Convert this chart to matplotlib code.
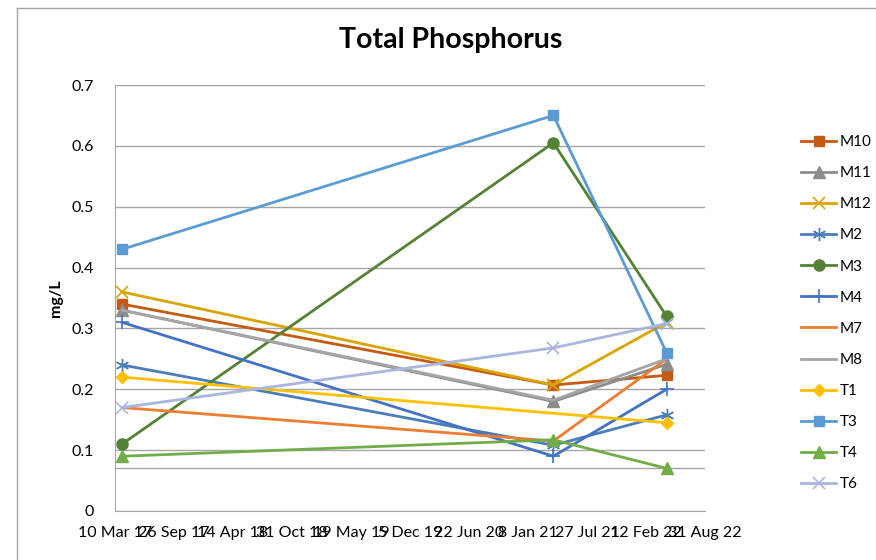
import matplotlib.pyplot as plt
import pandas as pd
from matplotlib import rcParams

rcParams['font.family'] = ['Lato', 'DejaVu Sans']

# sampling dates
dates = pd.to_datetime(['2017-04-03', '2021-04-04', '2022-04-23'])

sites = ['M10', 'M11', 'M12', 'M2', 'M3', 'M4', 'M7', 'M8', 'T1', 'T3', 'T4', 'T6']
m10 = [0.34, 0.207, 0.223]
m11 = [0.33, 0.18, 0.241]
m12 = [0.36, 0.207, 0.31]
m2 = [0.24, 0.108, 0.158]
m3 = [0.11, 0.605, 0.32]
m4 = [0.31, 0.09, 0.20]
m7 = [0.17, 0.115, 0.25]
m8 = [0.33, 0.182, 0.25]
t1 = [0.22, None, 0.145]
t3 = [0.43, 0.65, 0.26]
t4 = [0.09, 0.117, 0.07]
t6 = [0.17, 0.268, 0.308]
guideline = 0.07

x_start = pd.Timestamp('2017-03-10')
x_end = pd.Timestamp('2022-08-31')
tick_dates = pd.date_range(x_start, x_end, freq='200D')

styles = {
    'M10': dict(color='#C55A11', marker='s', ms=7.5),
    'M11': dict(color='#8C8C8C', marker='^', ms=8),
    'M12': dict(color='#D9A400', marker='x', ms=8.5, mew=1.2),
    'M2': dict(color='#4A7EBB', marker=(6, 2, 0), ms=9.5, mew=1.0),
    'M3': dict(color='#548235', marker='o', ms=8),
    'M4': dict(color='#4472C4', marker='+', ms=9.5, mew=1.2),
    'M7': dict(color='#ED7D31', marker=None),
    'M8': dict(color='#A5A5A5', marker=None),
    'T1': dict(color='#FFC000', marker='D', ms=6.5),
    'T3': dict(color='#5B9BD5', marker='s', ms=7.5),
    'T4': dict(color='#70AD47', marker='^', ms=8),
    'T6': dict(color='#A9B6E0', marker='x', ms=8.5, mew=1.2),
}
values = [m10, m11, m12, m2, m3, m4, m7, m8, t1, t3, t4, t6]

fig = plt.figure(figsize=(8.76, 5.6), dpi=100)
ax = fig.add_axes([115 / 876, 49 / 560, 590 / 876, 426 / 560])

for name, vals in zip(sites, values):
    s = pd.Series(vals, index=dates, dtype=float).dropna()
    ax.plot(s.index, s.values, label=name, lw=2, **styles[name])

ax.axhline(guideline, color='#A6A6A6', lw=1, zorder=0)

ax.set_xlim(x_start, x_end)
ax.set_ylim(0, 0.7)
ax.set_yticks([0, 0.1, 0.2, 0.3, 0.4, 0.5, 0.6, 0.7])
ax.set_yticklabels(['0', '0.1', '0.2', '0.3', '0.4', '0.5', '0.6', '0.7'])
ax.set_xticks(tick_dates)
ax.set_xticklabels([d.strftime('%-d %b %y') for d in tick_dates])
ax.tick_params(length=0, labelsize=11.5, colors='#000000')
ax.tick_params(axis='y', pad=15)
ax.tick_params(axis='x', pad=11)
ax.grid(axis='y', color='#A6A6A6', lw=1)
ax.set_axisbelow(True)
for side in ['top', 'right']:
    ax.spines[side].set_visible(False)
for side in ['left', 'bottom']:
    ax.spines[side].set_color('#A6A6A6')

ax.set_ylabel('mg/L', fontsize=11.5, fontweight='bold', labelpad=6)
fig.text(451 / 876, 1 - 40 / 560, 'Total Phosphorus', fontsize=20.5, fontweight='bold',
         ha='center', va='center')

ax.legend(loc='upper left', bbox_to_anchor=(795 / 876, 1 - 129 / 560),
          bbox_transform=fig.transFigure, frameon=False, fontsize=11,
          handlelength=2.3, handletextpad=0.2, labelspacing=1.12, borderaxespad=0)

# chart border
fig.add_artist(plt.Line2D([17 / 876, 17 / 876], [0, 1 - 8 / 560], color='#A6A6A6', lw=1))
fig.add_artist(plt.Line2D([17 / 876, 1], [1 - 8 / 560, 1 - 8 / 560], color='#A6A6A6', lw=1))

plt.savefig('out.png', dpi=100)
